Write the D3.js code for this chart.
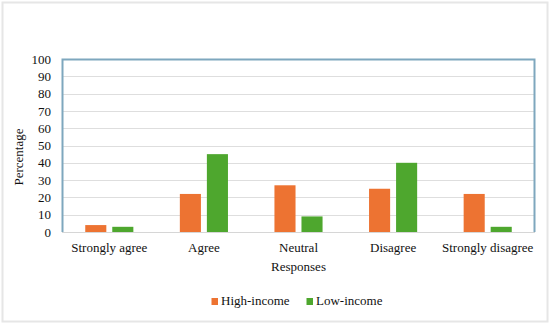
<!DOCTYPE html>
<html>
<head>
<meta charset="utf-8">
<script src="https://cdn.jsdelivr.net/npm/d3@7"></script>
<style>
  body { margin: 0; background: #fff; }
</style>
</head>
<body>
<div id="chart"></div>
<script>
var categories = ["Strongly agree", "Agree", "Neutral", "Disagree", "Strongly disagree"];
var series = ["High-income", "Low-income"];
var highIncome = [4, 22, 27, 25, 22];
var lowIncome = [3, 45, 9, 40, 3];
var yTicks = [0, 10, 20, 30, 40, 50, 60, 70, 80, 90, 100];
var colors = ["#ed7332", "#4ea72e"];

var width = 550, height = 324;
var plotLeft = 62, plotRight = 535, plotTop = 59, plotBottom = 232;
var serif = "Liberation Serif";

var svg = d3.select("#chart").append("svg")
  .attr("width", width)
  .attr("height", height)
  .attr("font-family", serif)
  .attr("font-size", 13);

// outer frame
svg.append("rect")
  .attr("x", 2.5).attr("y", 2.5)
  .attr("width", 545).attr("height", 319)
  .attr("fill", "none")
  .attr("stroke", "#e6e6e6")
  .attr("stroke-width", 2);

var x = d3.scaleBand().domain(categories).range([plotLeft, plotRight]);
var x1 = d3.scaleBand().domain(series).range([0, x.bandwidth()]).paddingInner(0.22).paddingOuter(0.86);
var y = d3.scaleLinear().domain([0, 100]).range([plotBottom, plotTop]);

// gridlines
svg.append("g")
  .selectAll("line")
  .data(yTicks.filter(function(d) { return d > 0 && d < 100; }))
  .enter().append("line")
  .attr("x1", plotLeft).attr("x2", plotRight)
  .attr("y1", function(d) { return Math.round(y(d)) + 0.5; })
  .attr("y2", function(d) { return Math.round(y(d)) + 0.5; })
  .attr("stroke", "#dedede")
  .attr("stroke-width", 1);

// y tick labels
var yAxis = svg.append("g")
  .attr("transform", "translate(" + (plotLeft - 11) + ",0)")
  .call(d3.axisLeft(y).tickValues(yTicks).tickSize(0).tickPadding(0));
yAxis.attr("font-family", serif).attr("font-size", 13);
yAxis.select(".domain").remove();
yAxis.selectAll("text").attr("fill", "#111");

// bars
var rows = categories.map(function(c, i) {
  return { cat: c, values: [highIncome[i], lowIncome[i]] };
});

var groups = svg.append("g")
  .selectAll("g")
  .data(rows)
  .enter().append("g")
  .attr("transform", function(d) { return "translate(" + x(d.cat) + ",0)"; });

groups.selectAll("rect")
  .data(function(d) { return d.values.map(function(v, j) { return { s: series[j], v: v, j: j }; }); })
  .enter().append("rect")
  .attr("x", function(d) { return x1(d.s); })
  .attr("width", x1.bandwidth())
  .attr("y", function(d) { return y(d.v); })
  .attr("height", function(d) { return plotBottom - y(d.v); })
  .attr("fill", function(d) { return colors[d.j]; });

// bottom axis line
svg.append("line")
  .attr("x1", plotLeft).attr("x2", plotRight)
  .attr("y1", plotBottom + 0.5).attr("y2", plotBottom + 0.5)
  .attr("stroke", "#d6d6d6");

// plot border (left, top, right)
svg.append("path")
  .attr("d", "M" + (plotLeft + 0.5) + "," + plotBottom + "V" + (plotTop + 0.5) + "H" + (plotRight - 0.5) + "V" + plotBottom)
  .attr("fill", "none")
  .attr("stroke", "#7ea7be")
  .attr("stroke-width", 2);

// category labels
var xAxis = svg.append("g")
  .attr("transform", "translate(0," + (plotBottom + 11) + ")")
  .call(d3.axisBottom(x).tickSize(0).tickPadding(0));
xAxis.attr("font-family", serif).attr("font-size", 13);
xAxis.select(".domain").remove();
xAxis.selectAll("text").attr("fill", "#111");

// axis titles
svg.append("text")
  .attr("transform", "translate(23,157) rotate(-90)")
  .attr("text-anchor", "middle")
  .attr("fill", "#111")
  .text("Percentage");

svg.append("text")
  .attr("x", (plotLeft + plotRight) / 2)
  .attr("y", 271)
  .attr("text-anchor", "middle")
  .attr("fill", "#111")
  .text("Responses");

// legend
var legendX = [211.5, 306.5];
var legend = svg.append("g")
  .selectAll("g")
  .data(series)
  .enter().append("g")
  .attr("transform", function(d, i) { return "translate(" + legendX[i] + ",305)"; });
legend.append("rect")
  .attr("x", 0).attr("y", -7)
  .attr("width", 6.5).attr("height", 7)
  .attr("fill", function(d, i) { return colors[i]; });
legend.append("text")
  .attr("x", 9.5).attr("y", 0)
  .attr("fill", "#111")
  .text(function(d) { return d; });
</script>
</body>
</html>
